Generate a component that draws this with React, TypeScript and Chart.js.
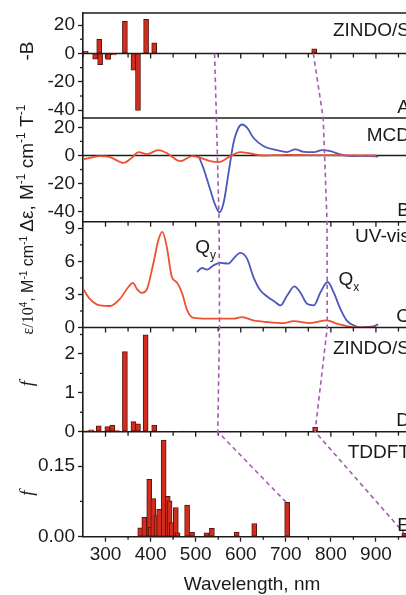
import React, { useEffect, useRef } from 'react';
import { Chart, registerables } from 'chart.js';

Chart.register(...registerables);

const FONT = '"Liberation Sans", Arial, Helvetica, sans-serif';
const SERIF = '"Liberation Serif", "Times New Roman", serif';
const AXIS = '#1c1c1c';
const RED_LINE = '#ee5030';
const BLUE_LINE = '#4a58bf';
const BAR_FILL = '#d22c1e';
const BAR_EDGE = '#5a140c';
const DASH = '#a858b4';

// ---------- Panel A: ZINDO/S  -B ----------
const zindoBWavelengths = [256, 277, 286, 288, 306, 318, 343, 362, 372, 390, 408, 763];
const zindoBValues = [1.5, -4, 10, -8, -4.2, -1, 22.6, -11.8, -40.2, 24, 7.5, 3.3];

// ---------- Panel B: MCD ----------
const mcdRedWavelengths = [250, 265, 288, 310, 340, 358, 373, 392, 417, 436, 466, 492, 510, 532, 551, 577, 599, 621, 651, 700, 750, 800, 850, 900];
const mcdRedValues = [-2.8, -1.7, -0.5, -1.2, -5.2, -1.7, 2.4, 1.0, 3.8, 1.7, -4.0, -0.5, -1.7, -4.0, -4.7, -0.5, 2.4, 1.4, 0, 0.4, 0.3, 0.2, 0.1, 0];
const mcdBlueWavelengths = [506, 517, 532, 543, 553, 562, 573, 584, 595, 603, 614, 628, 651, 680, 702, 721, 740, 763, 780, 799, 821, 843, 866, 885, 905];
const mcdBlueValues = [0, -8.8, -24, -34.8, -40.3, -33.6, -12.3, 9, 19.7, 22, 19.7, 12.6, 6.6, 3.8, 2.4, 4.3, 2.6, 2.4, 3.8, 3.1, 0.7, -0.5, -0.3, -0.5, -0.8];

// ---------- Panel C: UV-vis (ε/10^4) ----------
const uvRedWavelengths = [250, 265, 288, 310, 332, 351, 361, 369, 380, 391, 406, 417, 426, 436, 447, 458, 470, 481, 495, 525, 584, 603, 628, 658, 695, 717, 754, 791, 813, 836, 850, 900];
const uvRedValues = [3.53, 2.6, 2.0, 1.95, 2.6, 3.7, 4.05, 3.53, 3.14, 3.4, 5.8, 7.9, 8.67, 7.3, 4.6, 4.1, 3.1, 1.57, 0.87, 0.8, 0.8, 0.95, 0.65, 0.5, 0.4, 0.57, 0.4, 0.65, 0.35, 0.12, 0.02, 0];
const uvBlueWavelengths = [503, 514, 525, 540, 554, 573, 584, 599, 614, 628, 643, 658, 677, 688, 703, 719, 732, 747, 762, 777, 793, 806, 821, 836, 850, 865, 880, 895, 905];
const uvBlueValues = [5.04, 5.4, 5.25, 5.65, 5.86, 5.8, 6.25, 6.77, 6.25, 4.6, 3.4, 2.84, 2.3, 2.0, 2.9, 3.74, 3.2, 2.15, 2.0, 3.2, 4.13, 3.2, 1.7, 0.6, 0.2, 0.0, 0.05, 0.1, 0.3];

// ---------- Panel D: ZINDO/S f ----------
const zindoFWavelengths = [255, 268, 285, 304, 315, 325, 343, 362, 372, 389, 408, 470, 765];
const zindoFValues = [0.02, 0.05, 0.15, 0.13, 0.17, 0.03, 2.06, 0.26, 0.2, 2.49, 0.17, 0.01, 0.11];

// ---------- Panel E: TDDFT f ----------
const tddftWavelengths = [377, 386, 397, 400, 406, 413, 419, 429, 438, 442, 447, 456, 460, 481, 492, 524, 536, 591, 630, 703, 801, 963];
const tddftValues = [0.019, 0.041, 0.122, 0.02, 0.081, 0.045, 0.058, 0.205, 0.086, 0.076, 0.03, 0.062, 0.008, 0.067, 0.01, 0.008, 0.018, 0.01, 0.028, 0.073, 0.001, 0.007];

// ---------- Axes ----------
const xMin = 250;
const xMax = 1000;
const xMajorTicks = [300, 400, 500, 600, 700, 800, 900];
const xMinorTicks = [250, 350, 450, 550, 650, 750, 850, 950];

const yARange = [-45.5, 28.5];
const yBRange = [-47, 26.6];
const yCRange = [0, 9.6];
const yDRange = [0, 2.68];
const yERange = [0, 0.223];

const yATicks = [-40, -20, 0, 20];
const yAMinor = [-30, -10, 10];
const yBTicks = [-40, -20, 0, 20];
const yBMinor = [-30, -10, 10];
const yCTicks = [0, 3, 6, 9];
const yCMinor = [1.5, 4.5, 7.5];
const yDTicks = [0, 1, 2];
const yDMinor = [0.5, 1.5, 2.5];
const yETicks = [0, 0.15];
const yETickLabels = ['0.00', '0.15'];
const yEMinor = [0.075];

// dashed correlation lines: wavelength, panel axis, value
const dash1Wavelengths = [542, 546, 552, 553, 549, 700];
const dash1Axes = ['yA', 'yA', 'yB', 'yC', 'yD', 'yE'];
const dash1Values = [0, -45.5, -47, 0, 0, 0.074];
const dash2Wavelengths = [761, 783, 791.5, 792, 765, 962];
const dash2Axes = ['yA', 'yA', 'yB', 'yC', 'yD', 'yE'];
const dash2Values = [0, -45.5, -47, 0, 0, 0.008];

const zip = (xs: number[], ys: number[]) => xs.map((x, i) => ({ x, y: ys[i] }));

type Seg = { t: string; sup?: boolean; sub?: boolean; italic?: boolean; serif?: boolean };

function richWidth(ctx: CanvasRenderingContext2D, segs: Seg[], size: number) {
  let w = 0;
  for (const s of segs) {
    const fs = s.sup || s.sub ? Math.round(size * 0.62) : size;
    ctx.font = `${s.italic ? 'italic ' : ''}${fs}px ${s.serif ? SERIF : FONT}`;
    w += ctx.measureText(s.t).width;
  }
  return w;
}

function drawRich(ctx: CanvasRenderingContext2D, segs: Seg[], x: number, y: number, size: number) {
  let cx = x;
  ctx.textAlign = 'left';
  ctx.textBaseline = 'alphabetic';
  for (const s of segs) {
    const fs = s.sup || s.sub ? Math.round(size * 0.62) : size;
    ctx.font = `${s.italic ? 'italic ' : ''}${fs}px ${s.serif ? SERIF : FONT}`;
    const dy = s.sup ? -size * 0.4 : s.sub ? size * 0.28 : 0;
    ctx.fillText(s.t, cx, y + dy);
    cx += ctx.measureText(s.t).width;
  }
}

const titleA: Seg[] = [{ t: '-B' }];
const titleB: Seg[] = [{ t: 'Δε, M' }, { t: '-1', sup: true }, { t: ' cm' }, { t: '-1', sup: true }, { t: ' T' }, { t: '-1', sup: true }];
const titleC: Seg[] = [{ t: 'ε/10', serif: true }, { t: '4', sup: true }, { t: ', M' }, { t: '-1', sup: true }, { t: ' cm' }, { t: '-1', sup: true }];
const titleF: Seg[] = [{ t: 'f', italic: true, serif: true }];

const decor = {
  id: 'decor',
  beforeDatasetsDraw(chart: any) {
    const { ctx, chartArea: a, scales } = chart;
    const x = scales.x;
    ctx.save();
    ctx.strokeStyle = AXIS;
    ctx.lineWidth = 1.5;
    for (const id of ['yA', 'yB']) {
      const y0 = Math.round(scales[id].getPixelForValue(0)) + 0.5;
      ctx.beginPath();
      ctx.moveTo(a.left, y0);
      ctx.lineTo(a.right, y0);
      ctx.stroke();
    }
    const yA0 = Math.round(scales.yA.getPixelForValue(0)) + 0.5;
    ctx.lineWidth = 1.3;
    for (const v of xMajorTicks.concat(xMinorTicks)) {
      const px = x.getPixelForValue(v);
      ctx.beginPath();
      ctx.moveTo(px, yA0);
      ctx.lineTo(px, yA0 + (xMajorTicks.includes(v) ? 5 : 4));
      ctx.stroke();
    }
    ctx.restore();
  },
  afterDatasetsDraw(chart: any) {
    const { ctx, chartArea: a, scales } = chart;
    const x = scales.x;
    ctx.save();
    // panel borders
    ctx.strokeStyle = AXIS;
    ctx.lineWidth = 1.6;
    for (const id of ['yA', 'yB', 'yC', 'yD', 'yE']) {
      const yt = scales[id].top;
      ctx.beginPath();
      ctx.moveTo(a.left, yt);
      ctx.lineTo(a.right, yt);
      ctx.stroke();
    }
    ctx.beginPath();
    ctx.moveTo(a.right, a.top);
    ctx.lineTo(a.right, a.bottom);
    ctx.stroke();
    // inward ticks at top of C, D, E
    ctx.lineWidth = 1.3;
    for (const id of ['yC', 'yD', 'yE']) {
      const yt = scales[id].top;
      for (const v of xMajorTicks.concat(xMinorTicks)) {
        if (v <= xMin) continue;
        const px = x.getPixelForValue(v);
        ctx.beginPath();
        ctx.moveTo(px, yt);
        ctx.lineTo(px, yt + (xMajorTicks.includes(v) ? 5 : 4));
        ctx.stroke();
      }
    }
    // left minor ticks
    const minors: Record<string, number[]> = { yA: yAMinor, yB: yBMinor, yC: yCMinor, yD: yDMinor, yE: yEMinor };
    for (const id of Object.keys(minors)) {
      const s = scales[id];
      for (const v of minors[id]) {
        const py = s.getPixelForValue(v);
        if (py < s.top || py > s.bottom) continue;
        ctx.beginPath();
        ctx.moveTo(a.left - 3, py);
        ctx.lineTo(a.left, py);
        ctx.stroke();
      }
    }
    // bottom minor ticks
    for (const v of xMinorTicks) {
      if (v <= xMin) continue;
      const px = x.getPixelForValue(v);
      ctx.beginPath();
      ctx.moveTo(px, a.bottom);
      ctx.lineTo(px, a.bottom + 3);
      ctx.stroke();
    }
    // dashed lines
    ctx.strokeStyle = DASH;
    ctx.lineWidth = 1.6;
    ctx.setLineDash([4.5, 3.5]);
    for (const [ws, ax, vs] of [
      [dash1Wavelengths, dash1Axes, dash1Values],
      [dash2Wavelengths, dash2Axes, dash2Values],
    ] as [number[], string[], number[]][]) {
      ctx.beginPath();
      ws.forEach((w, i) => {
        const px = x.getPixelForValue(w);
        const py = scales[ax[i]].getPixelForValue(vs[i]);
        if (i === 0) ctx.moveTo(px, py);
        else ctx.lineTo(px, py);
      });
      ctx.stroke();
    }
    ctx.setLineDash([]);
    ctx.restore();
  },
  afterDraw(chart: any) {
    const { ctx, chartArea: a, scales } = chart;
    const x = scales.x;
    ctx.save();
    ctx.fillStyle = '#1a1a1a';
    const size = 19;
    const rx = a.right - 11;
    ctx.font = `${size}px ${FONT}`;
    ctx.textAlign = 'right';
    ctx.textBaseline = 'alphabetic';
    const labels: [string, string, string][] = [
      ['yA', 'ZINDO/S', 'A'],
      ['yB', 'MCD', 'B'],
      ['yC', 'UV-vis', 'C'],
      ['yD', 'ZINDO/S', 'D'],
      ['yE', 'TDDFT', 'E'],
    ];
    const topOff: Record<string, number> = { yA: 23, yB: 23, yC: 20.5, yD: 26.5, yE: 26 };
    for (const [id, top, bottom] of labels) {
      const s = scales[id];
      ctx.fillText(top, rx, s.top + topOff[id]);
      ctx.fillText(bottom, rx, s.bottom - 5.5);
    }
    // Q labels
    const qy = { x: x.getPixelForValue(499), y: scales.yC.getPixelForValue(6.74) };
    drawRich(ctx, [{ t: 'Q' }, { t: 'y', sub: true }], qy.x, qy.y, size);
    const qx = { x: x.getPixelForValue(817), y: scales.yC.getPixelForValue(3.83) };
    drawRich(ctx, [{ t: 'Q' }, { t: 'x', sub: true }], qx.x, qx.y, size);

    // x title
    ctx.font = `${size}px ${FONT}`;
    ctx.textAlign = 'center';
    ctx.fillText('Wavelength, nm', (a.left + a.right) / 2, 582);

    // rotated y titles
    const bx = 25;
    const rot = (segs: Seg[], start: number, fs: number) => {
      ctx.save();
      ctx.translate(bx, start);
      ctx.rotate(-Math.PI / 2);
      drawRich(ctx, segs, 0, 0, fs);
      ctx.restore();
    };
    const wA = richWidth(ctx, titleA, size);
    rot(titleA, scales.yA.top + 38 + wA / 2, size);
    rot(titleB, scales.yC.top + 10, size);
    rot(titleC, scales.yC.bottom + 7, 16);
    const wF = richWidth(ctx, titleF, size);
    rot(titleF, (scales.yD.top + scales.yD.bottom) / 2 + 4 + wF / 2, size);
    rot(titleF, (scales.yE.top + scales.yE.bottom) / 2 + 9 + wF / 2, size);
    ctx.restore();
  },
};

function yAxis(range: number[], ticks: number[], weight: number, stackWeight: number, labels?: string[]) {
  return {
    type: 'linear' as const,
    position: 'left' as const,
    stack: 'panels',
    stackWeight,
    weight,
    min: range[0],
    max: range[1],
    afterBuildTicks: (s: any) => {
      s.ticks = ticks.map((v) => ({ value: v }));
    },
    afterFit: (s: any) => {
      s.width = 75;
      s.paddingTop = 0;
      s.paddingBottom = 0;
    },
    ticks: {
      autoSkip: false,
      padding: 3,
      color: '#1a1a1a',
      font: { family: FONT, size: 19 },
      callback: (v: any) => {
        const i = ticks.indexOf(Number(v));
        if (labels && i >= 0) return labels[i];
        return String(v);
      },
    },
    grid: {
      display: true,
      drawOnChartArea: false,
      drawTicks: true,
      tickLength: 5,
      tickColor: AXIS,
      tickWidth: 1.3,
    },
    border: { display: true, color: AXIS, width: 1.6 },
  };
}

export default function App() {
  const ref = useRef<HTMLCanvasElement>(null);
  useEffect(() => {
    const barStyle = {
      type: 'bar' as const,
      backgroundColor: BAR_FILL,
      borderColor: BAR_EDGE,
      borderWidth: 1,
      borderSkipped: false,
      barThickness: 5,
      grouped: false,
    };
    const lineStyle = {
      type: 'line' as const,
      borderWidth: 1.8,
      pointRadius: 0,
      fill: false,
      cubicInterpolationMode: 'monotone' as const,
    };
    const chart = new Chart(ref.current!, {
      type: 'bar',
      data: {
        datasets: [
          { ...lineStyle, data: zip(mcdRedWavelengths, mcdRedValues), yAxisID: 'yB', borderColor: RED_LINE },
          { ...lineStyle, data: zip(mcdBlueWavelengths, mcdBlueValues), yAxisID: 'yB', borderColor: BLUE_LINE },
          { ...lineStyle, data: zip(uvRedWavelengths, uvRedValues), yAxisID: 'yC', borderColor: RED_LINE },
          { ...lineStyle, data: zip(uvBlueWavelengths, uvBlueValues), yAxisID: 'yC', borderColor: BLUE_LINE },
          { ...barStyle, data: zip(zindoBWavelengths, zindoBValues), yAxisID: 'yA' },
          { ...barStyle, data: zip(zindoFWavelengths, zindoFValues), yAxisID: 'yD' },
          { ...barStyle, data: zip(tddftWavelengths, tddftValues), yAxisID: 'yE' },
        ] as any,
      },
      options: {
        responsive: false,
        maintainAspectRatio: false,
        animation: false,
        devicePixelRatio: 1,
        layout: { padding: { top: 5, right: 17, bottom: 0, left: 0 } },
        plugins: { legend: { display: false }, tooltip: { enabled: false }, title: { display: false } },
        scales: {
          x: {
            type: 'linear',
            position: 'bottom',
            min: xMin,
            max: xMax,
            offset: false,
            afterBuildTicks: (s: any) => {
              s.ticks = xMajorTicks.map((v) => ({ value: v }));
            },
            afterFit: (s: any) => {
              s.height = 58.3;
              s.paddingLeft = 0;
              s.paddingRight = 0;
            },
            ticks: {
              autoSkip: false,
              maxRotation: 0,
              padding: 2,
              color: '#1a1a1a',
              font: { family: FONT, size: 19 },
              callback: (v: any) => String(v),
            },
            grid: {
              display: true,
              offset: false,
              drawOnChartArea: false,
              drawTicks: true,
              tickLength: 5,
              tickColor: AXIS,
              tickWidth: 1.3,
            },
            border: { display: true, color: AXIS, width: 1.6 },
          },
          yA: yAxis(yARange, yATicks, 5, 105),
          yB: yAxis(yBRange, yBTicks, 4, 103.7),
          yC: yAxis(yCRange, yCTicks, 3, 105.8),
          yD: yAxis(yDRange, yDTicks, 2, 104.2),
          yE: yAxis(yERange, yETicks, 1, 105, yETickLabels),
        } as any,
      },
      plugins: [decor],
    });
    return () => chart.destroy();
  }, []);
  return (
    <div style={{ position: 'fixed', left: 8, top: 8, width: 398, height: 587, overflow: 'hidden', background: '#fff' }}>
      <canvas ref={ref} width={430} height={587} style={{ display: 'block', width: 430, height: 587 }} />
    </div>
  );
}
